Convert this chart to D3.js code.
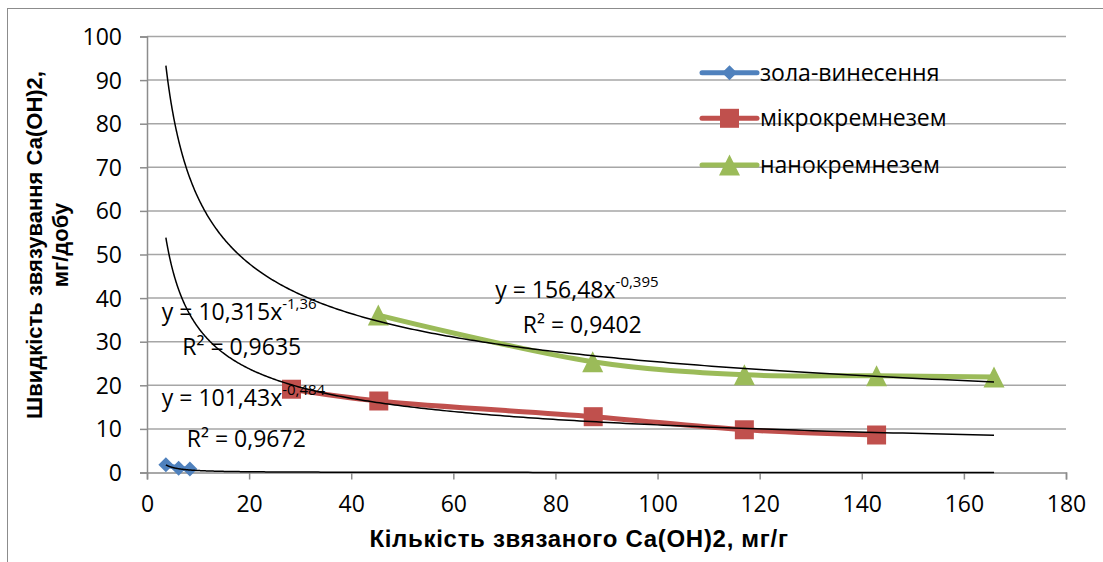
<!DOCTYPE html>
<html>
<head>
<meta charset="utf-8">
<script src="https://cdn.jsdelivr.net/npm/d3@7"></script>
<style>
  body { margin: 0; background: #fff; }
  svg { display: block; }
  .lbl { font-family: "Open Sans", "Noto Sans", sans-serif; fill: #000; }
  .ttl { font-family: "Liberation Sans", Arial, sans-serif; font-weight: bold; fill: #000; }
</style>
</head>
<body>
<svg id="chart" width="1103" height="562"></svg>
<script>
// Axis ticks
const xTicks = [0, 20, 40, 60, 80, 100, 120, 140, 160, 180];
const yTicks = [0, 10, 20, 30, 40, 50, 60, 70, 80, 90, 100];

// Series
const seriesNames = ["зола-винесення", "мікрокремнезем", "нанокремнезем"];
const ashX = [3.7, 6.2, 8.4];
const ashY = [1.8, 1.0, 0.8];
const microX = [28.3, 45.4, 87.4, 117.0, 142.9];
const microY = [19.1, 16.4, 12.8, 9.8, 8.6];
const nanoX = [45.3, 87.3, 117.0, 142.9, 165.9];
const nanoY = [36.1, 25.4, 22.4, 22.2, 21.9];

// Power trendlines y = a * x^b
const fitA = [10.315, 101.43, 156.48];
const fitB = [-1.36, -0.484, -0.395];
const fitEq = ["y = 10,315x", "y = 101,43x", "y = 156,48x"];
const fitExp = ["-1,36", "-0,484", "-0,395"];
const fitR2 = ["R² = 0,9635", "R² = 0,9672", "R² = 0,9402"];

const xTitle = "Кількість звязаного Са(ОН)2, мг/г";
const yTitle = ["Швидкість звязування Са(ОН)2,", "мг/добу"];

// Styling / layout
const colors = ["#4F81BD", "#C0504D", "#9BBB59"];
const markers = ["diamond", "square", "triangle"];
// label anchor points (data units): [eqX, eqY, r2X, r2Y]
const fitLabelPos = [
  [2.9, 35.0, 6.9, 27.0],
  [2.9, 15.3, 7.8, 5.9],
  [68.2, 40.0, 73.6, 31.9]
];

const svg = d3.select("#chart");
const x = d3.scaleLinear().domain([0, 180]).range([147, 1066]);
const y = d3.scaleLinear().domain([0, 100]).range([472.5, 36.5]);

// outer chart frame
svg.append("rect")
  .attr("x", 7.5).attr("y", 8.5).attr("width", 1300).attr("height", 800)
  .attr("fill", "none").attr("stroke", "#8c8c8c").attr("stroke-width", 1);

// horizontal gridlines
svg.append("g").selectAll("line").data(yTicks.filter(d => d > 0)).join("line")
  .attr("x1", x(0)).attr("x2", x(180))
  .attr("y1", d => y(d)).attr("y2", d => y(d))
  .attr("stroke", "#a6a6a6").attr("stroke-width", 1.5);

// y axis
const yAxis = d3.axisLeft(y).tickValues(yTicks).tickSize(7).tickPadding(18).tickFormat(d3.format("d"));
const gy = svg.append("g").attr("transform", `translate(${x(0)},0)`).call(yAxis);
gy.select(".domain").attr("stroke", "#8c8c8c").attr("stroke-width", 1.5);
gy.selectAll(".tick line").attr("stroke", "#8c8c8c").attr("stroke-width", 1.5);
gy.selectAll(".tick text").attr("class", "lbl").attr("font-size", 23).attr("dy", "0.35em");

// x axis
const xAxis = d3.axisBottom(x).tickValues(xTicks).tickSize(7).tickPadding(16).tickFormat(d3.format("d"));
const gx = svg.append("g").attr("transform", `translate(0,${y(0)})`).call(xAxis);
gx.select(".domain").attr("stroke", "#8c8c8c").attr("stroke-width", 1.5);
gx.selectAll(".tick line").attr("stroke", "#8c8c8c").attr("stroke-width", 1.5);
gx.selectAll(".tick text").attr("class", "lbl").attr("font-size", 23);

// axis titles
svg.append("text").attr("class", "ttl").attr("font-size", 24).attr("letter-spacing", 0.7)
  .attr("x", 579).attr("y", 547).attr("text-anchor", "middle").text(xTitle);
const yt = svg.append("text").attr("class", "ttl").attr("font-size", 22)
  .attr("transform", "translate(42,245) rotate(-90)").attr("text-anchor", "middle");
yt.append("tspan").attr("x", 0).attr("y", 0).text(yTitle[0]);
yt.append("tspan").attr("x", 0).attr("y", 26).text(yTitle[1]);

// marker shapes
function markerPath(kind, s) {
  const h = s / 2;
  if (kind === "diamond") return `M0,${-h}L${h},0L0,${h}L${-h},0Z`;
  if (kind === "square") return `M${-h},${-h}H${h}V${h}H${-h}Z`;
  return `M0,${-h}L${h},${h}L${-h},${h}Z`;
}
const markerSize = [15, 19, 21];

const series = [
  ashX.map((v, i) => [v, ashY[i]]),
  microX.map((v, i) => [v, microY[i]]),
  nanoX.map((v, i) => [v, nanoY[i]])
];

const line = d3.line().x(d => x(d[0])).y(d => y(d[1])).curve(d3.curveCatmullRom.alpha(0.5));

series.forEach((pts, k) => {
  svg.append("path").attr("d", line(pts)).attr("fill", "none")
    .attr("stroke", colors[k]).attr("stroke-width", 5).attr("stroke-linecap", "round");
});
series.forEach((pts, k) => {
  svg.append("g").selectAll("path").data(pts).join("path")
    .attr("transform", d => `translate(${x(d[0])},${y(d[1])})`)
    .attr("d", markerPath(markers[k], markerSize[k]))
    .attr("fill", colors[k]);
});

// trendlines over the full x extent of the data
const allX = ashX.concat(microX, nanoX);
const [xMin, xMax] = d3.extent(allX);
const trend = d3.line().x(d => x(d[0])).y(d => y(d[1]));
fitA.forEach((a, k) => {
  const pts = d3.range(0, 301).map(i => {
    const xv = xMin * Math.pow(xMax / xMin, i / 300);
    return [xv, a * Math.pow(xv, fitB[k])];
  });
  svg.append("path").attr("d", trend(pts)).attr("fill", "none")
    .attr("stroke", "#000").attr("stroke-width", 1.5);
});

// trendline equations
fitLabelPos.forEach((p, k) => {
  const t = svg.append("text").attr("class", "lbl").attr("font-size", 23)
    .attr("x", x(p[0])).attr("y", y(p[1]));
  t.append("tspan").text(fitEq[k]);
  t.append("tspan").attr("font-size", 15).attr("dy", -11).text(fitExp[k]);
  svg.append("text").attr("class", "lbl").attr("font-size", 23)
    .attr("x", x(p[2])).attr("y", y(p[3])).text(fitR2[k]);
});

// legend
const legY = [72.7, 118.3, 165];
seriesNames.forEach((name, k) => {
  const g = svg.append("g").attr("transform", `translate(0,${legY[k]})`);
  g.append("line").attr("x1", 702).attr("x2", 757).attr("y1", 0).attr("y2", 0)
    .attr("stroke", colors[k]).attr("stroke-width", 5).attr("stroke-linecap", "round");
  g.append("path").attr("transform", "translate(729.5,0)")
    .attr("d", markerPath(markers[k], markerSize[k])).attr("fill", colors[k]);
  g.append("text").attr("class", "lbl").attr("font-size", 23)
    .attr("x", 760).attr("y", 0).attr("dy", "0.35em").text(name);
});
</script>
</body>
</html>
